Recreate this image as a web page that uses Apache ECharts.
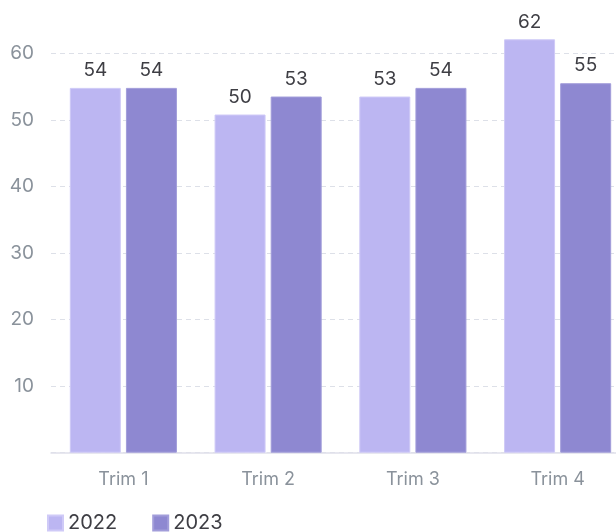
<!DOCTYPE html>
<html>
<head>
<meta charset="utf-8">
<script src="https://cdn.jsdelivr.net/npm/echarts@6/dist/echarts.min.js"></script>
<style>html,body{margin:0;padding:0;background:#fff;}#c{width:616px;height:532px;}</style>
</head>
<body>
<div id="c"></div>
<script>
const categories = ['Trim 1', 'Trim 2', 'Trim 3', 'Trim 4'];
const seriesNames = ['2022', '2023'];
const values2022 = [54.8, 50.8, 53.5, 62.1];
const values2023 = [54.8, 53.5, 54.8, 55.5];
const yTicks = [0, 10, 20, 30, 40, 50, 60, 70];

const FONT = 'Inter';
const chart = echarts.init(document.getElementById('c'), null, {renderer: 'canvas'});
const labelOpt = {
  show: true, position: 'top', distance: 8,
  color: '#3e3e44', fontSize: 19, fontFamily: FONT,
  formatter: p => String(Math.floor(p.value))
};
chart.setOption({
  animation: false,
  grid: {left: 51, top: -13.3, width: 579, height: 466, containLabel: false, outerBoundsMode: 'none'},
  legend: {
    left: 42, top: 508, itemWidth: 15, itemHeight: 15, itemGap: 35,
    icon: 'rect',
    textStyle: {color: '#3e3e44', fontSize: 20, fontFamily: FONT},
    data: seriesNames
  },
  xAxis: {
    type: 'category', data: categories,
    axisLine: {show: true, lineStyle: {color: '#dfe0ea', width: 1.5}},
    axisTick: {show: false},
    axisLabel: {color: '#8a929b', fontSize: 18, fontFamily: FONT, margin: 18}
  },
  yAxis: {
    type: 'value', min: yTicks[0], max: yTicks[yTicks.length - 1], interval: 10,
    axisLine: {show: false}, axisTick: {show: false},
    axisLabel: {color: '#8a929b', fontSize: 19, fontFamily: FONT, margin: 17,
      formatter: v => (v === 0 ? '' : String(v))},
    splitLine: {show: true, lineStyle: {color: '#dde0e8', type: [5, 4], width: 1}}
  },
  series: [
    {name: seriesNames[0], type: 'bar', data: values2022, barWidth: 51, barGap: '10%',
      itemStyle: {color: '#bcb6f2', borderColor: '#cfcaf7', borderWidth: 1}, label: labelOpt},
    {name: seriesNames[1], type: 'bar', data: values2023, barWidth: 51,
      itemStyle: {color: '#8e88d1', borderColor: '#a29dda', borderWidth: 1}, label: labelOpt}
  ]
});
</script>
</body>
</html>
